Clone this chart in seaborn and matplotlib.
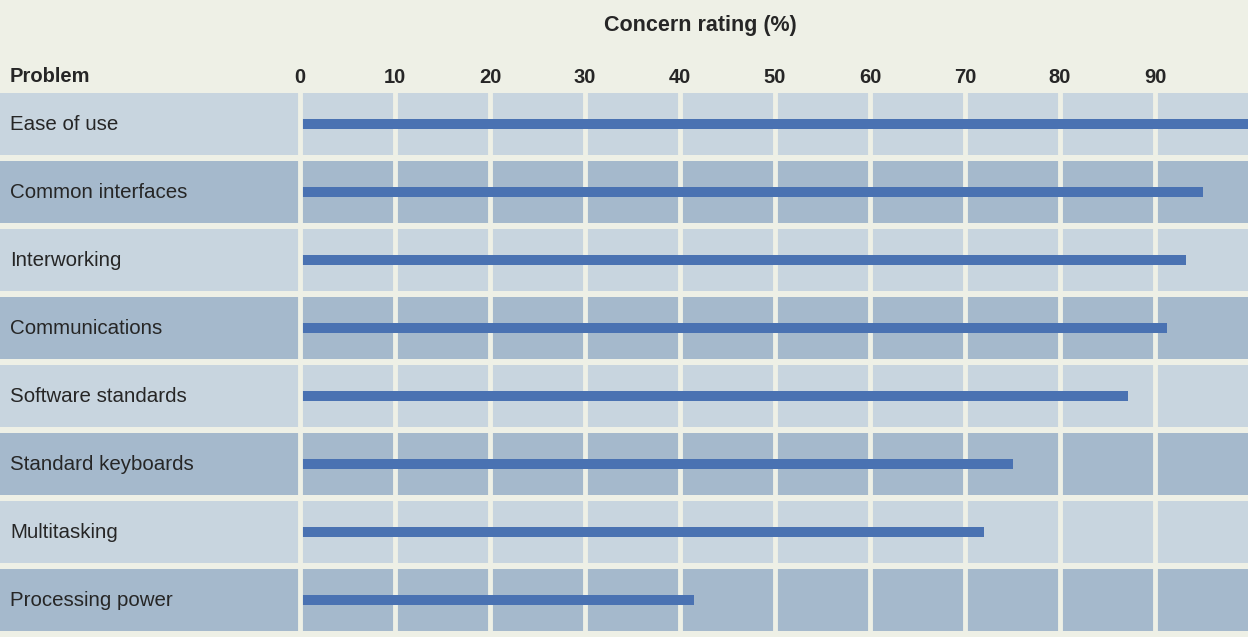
import matplotlib
matplotlib.use("Agg")
import matplotlib.pyplot as plt
import seaborn as sns
import pandas as pd

# Data
problems = ["Ease of use", "Common interfaces", "Interworking", "Communications",
            "Software standards", "Standard keyboards", "Multitasking", "Processing power"]
concern = [100, 95, 93.3, 91.3, 87.2, 75, 72, 41.5]
ticks = [0, 10, 20, 30, 40, 50, 60, 70, 80, 90]

df = pd.DataFrame({"problem": problems, "concern": concern})

cream = "#eef0e6"
light_row = "#c8d5df"
dark_row = "#a5b9cc"
bar_col = "#4a72b2"
text_col = "#262626"

sns.set_theme(style="white")
plt.rcParams["font.family"] = ["Liberation Sans", "DejaVu Sans"]

fig = plt.figure(figsize=(12.48, 6.37), dpi=100, facecolor=cream)
ax = fig.add_axes([0, 3 / 637, 1, 544 / 637])
ax.set_facecolor(cream)

# x range: label column on the left, 0 at ~300px, 9.5px per unit
x_left = -300 / 9.5
x_right = (1248 - 300) / 9.5

# row bands
for i in range(len(problems)):
    ax.axhspan(i - 0.455, i + 0.455, color=light_row if i % 2 == 0 else dark_row, lw=0, zorder=0)

# vertical white grid lines
for t in ticks:
    ax.axvline(t, color=cream, lw=3.5, zorder=1 if t else 3)

sns.barplot(data=df, x="concern", y="problem", orient="h", color=bar_col,
            width=0.16, saturation=1, linewidth=0, ax=ax, zorder=2)

ax.set_xlim(x_left, x_right)
ax.set_ylim(len(problems) - 0.5, -0.5)

ax.set_xticks([])
ax.set_yticks([])
ax.set_xlabel("")
ax.set_ylabel("")
for s in ax.spines.values():
    s.set_visible(False)

# row labels
for i, p in enumerate(problems):
    ax.text(10 / 9.5 + x_left, i, p, ha="left", va="center",
            fontsize=14.8, color=text_col)

# header texts
ax.text(10 / 9.5 + x_left, -0.7, "Problem", ha="left", va="center",
        fontsize=14.5, fontweight="bold", color=text_col, clip_on=False)
for t in ticks:
    ax.text(t, -0.68, str(t), ha="center", va="center", fontsize=14.5,
            fontweight="bold", color=text_col, clip_on=False)
fig.text(700 / 1248, 1 - 25 / 637, "Concern rating (%)", ha="center", va="center",
         fontsize=15.5, fontweight="bold", color=text_col)

fig.savefig("out.png", dpi=100, facecolor=cream)
